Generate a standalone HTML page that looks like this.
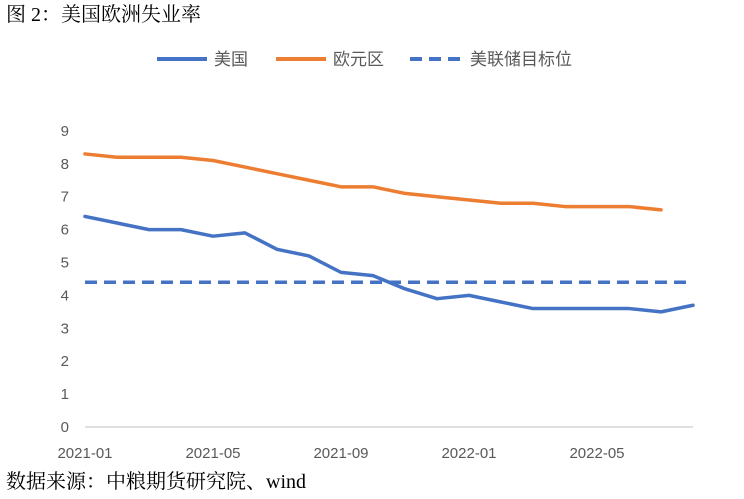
<!DOCTYPE html>
<html><head><meta charset="utf-8"><style>
body{margin:0;background:#fff;width:744px;height:499px;overflow:hidden}
svg{display:block}
</style></head><body>
<svg width="744" height="499" id="c">
<text x="6" y="21" font-family="Liberation Serif, Noto Serif CJK SC, serif" font-size="20" fill="#000">图 2：美国欧洲失业率</text>
<text x="6" y="488" font-family="Liberation Serif, Noto Serif CJK SC, serif" font-size="20" fill="#000">数据来源：中粮期货研究院、wind</text>
<g font-family="Liberation Sans, Noto Sans CJK SC, sans-serif" font-size="17" fill="#595959">
<g><line x1="157" y1="59" x2="207" y2="59" stroke="#4472c4" stroke-width="4"/><text x="214" y="65">美国</text></g>
<g><line x1="276" y1="59" x2="326" y2="59" stroke="#ed7d31" stroke-width="4"/><text x="333" y="65">欧元区</text></g>
<g><line x1="410" y1="59" x2="462" y2="59" stroke="#4472c4" stroke-width="4" stroke-dasharray="12,7"/><text x="470" y="65">美联储目标位</text></g>
</g>
<g id="axes"></g><g id="marks"></g>
</svg>
<script>
const xLabels=["2021-01","2021-05","2021-09","2022-01","2022-05"];
const yTicks=[0,1,2,3,4,5,6,7,8,9];
const usRate=[6.4,6.2,6.0,6.0,5.8,5.9,5.4,5.2,4.7,4.6,4.2,3.9,4.0,3.8,3.6,3.6,3.6,3.6,3.5,3.7];
const euRate=[8.3,8.2,8.2,8.2,8.1,7.9,7.7,7.5,7.3,7.3,7.1,7.0,6.9,6.8,6.8,6.7,6.7,6.7,6.6];
const fedTarget=[4.4];
const NS="http://www.w3.org/2000/svg";
const x0=85,dx=32,y0=427,dy=32.9;
const X=i=>x0+i*dx, Y=v=>y0-v*dy;
const axes=document.getElementById('axes'),marks=document.getElementById('marks');
function mk(t,a,p){const e=document.createElementNS(NS,t);for(const k in a)e.setAttribute(k,a[k]);p.appendChild(e);return e;}
const base=mk('line',{x1:x0,y1:y0,x2:X(19),y2:y0,stroke:'#bfbfbf','stroke-width':1},axes);


yTicks.forEach(v=>{const t=mk('text',{x:69,y:Y(v)+5,'text-anchor':'end','font-family':'Liberation Sans, sans-serif','font-size':15,fill:'#595959'},axes);t.textContent=v;

});
xLabels.forEach((l,i)=>{const t=mk('text',{x:X(i*4),y:458,'text-anchor':'middle','font-family':'Liberation Sans, sans-serif','font-size':15,fill:'#595959'},axes);t.textContent=l;

});
const fl=mk('line',{x1:X(0),y1:Y(fedTarget[0]),x2:X(19),y2:Y(fedTarget[0]),stroke:'#4472c4','stroke-width':3.5,'stroke-dasharray':'12,7'},marks);


function series(d,c,n){const p=mk('polyline',{points:d.map((v,i)=>X(i)+','+Y(v)).join(' '),fill:'none',stroke:c,'stroke-width':3.5,'stroke-linejoin':'round','stroke-linecap':'round'},marks);

}
series(euRate,'#ed7d31','eurozone-line');
series(usRate,'#4472c4','us-line');
</script>
</body></html>
